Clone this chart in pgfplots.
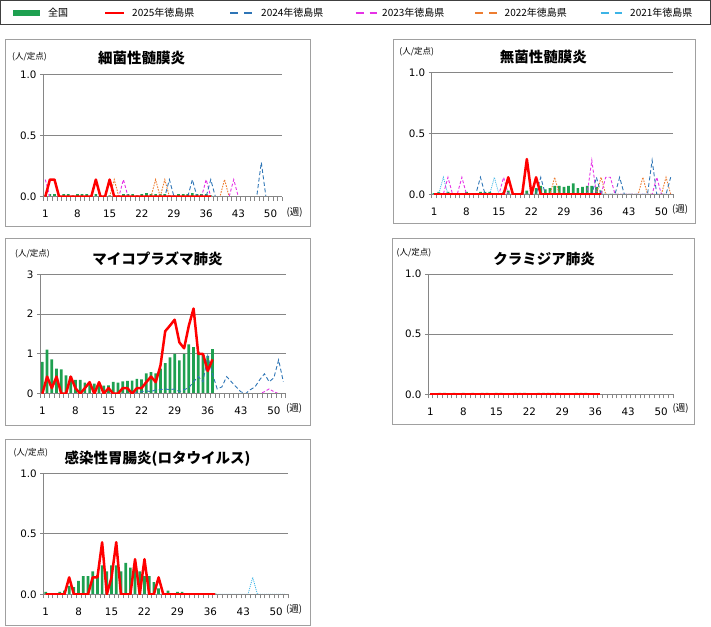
\documentclass[border=0pt]{standalone}
\usepackage{fontspec}
\setmainfont{DejaVu Sans}
\newfontfamily\jp{Noto Sans CJK JP}
\usepackage{pgfplots}
\pgfplotsset{compat=1.18}
\usepackage{pgfplotstable}

\definecolor{natgreen}{RGB}{30,160,80}
\definecolor{c2025}{RGB}{255,0,0}
\definecolor{c2024}{RGB}{46,117,182}
\definecolor{c2023}{RGB}{230,50,230}
\definecolor{c2022}{RGB}{237,125,49}
\definecolor{c2021}{RGB}{60,180,230}
\definecolor{gridgray}{RGB}{134,134,134}
\definecolor{framegray}{RGB}{160,160,160}

% 細菌性髄膜炎
\pgfplotstableread{
w nat r25 a24 a23 a22 a21
1 0.01 0 0 0.14 0 0
2 0.02 0.14 0 0 0 0
3 0.02 0.14 0 0 0 0
4 0.01 0 0 0 0 0
5 0.02 0 0 0 0 0
6 0.02 0 0 0 0 0
7 0.01 0 0 0 0 0
8 0.02 0 0 0 0 0
9 0.02 0 0 0 0 0
10 0.02 0 0 0 0 0
11 0.01 0 0 0 0 0
12 0.02 0.14 0 0 0 0
13 0.01 0 0 0 0 0
14 0.01 0 0 0 0 0
15 0.01 0.14 0 0 0 0
16 0.01 0 0 0 0.14 0
17 0.01 0 0 0 0 0
18 0.02 0 0 0.14 0 0
19 0.02 0 0 0 0 0
20 0.02 0 0 0 0 0
21 0.01 0 0 0 0 0
22 0.02 0 0 0 0 0
23 0.03 0 0 0 0 0
24 0.02 0 0 0 0 0
25 0.02 0 0 0 0.14 0
26 0.02 0 0 0 0 0
27 0.02 0 0 0 0.14 0
28 0.01 0 0.14 0 0 0
29 0.01 0 0 0 0 0
30 0.02 0 0 0 0 0
31 0.02 0 0 0 0 0
32 0.02 0 0 0 0 0
33 0.03 0 0.14 0 0 0
34 0.02 0 0 0 0 0
35 0.02 0 0 0 0 0
36 0.02 0 0 0.14 0 0
37 0.01 0 0.14 0 0 0
38 nan nan 0 0 0 0
39 nan nan 0 0 0 0
40 nan nan 0 0 0.14 0
41 nan nan 0 0 0 0
42 nan nan 0 0.14 0 0
43 nan nan 0 0 0 0
44 nan nan 0 0 0 0
45 nan nan 0 0 0 0
46 nan nan 0 0 0 0
47 nan nan 0 0 0 0
48 nan nan 0.28 0 0 0
49 nan nan 0 0 0 0
50 nan nan 0 0 0 0
51 nan nan 0 0 0 0
52 nan nan 0 0 0 0
}\tblA

% 無菌性髄膜炎
\pgfplotstableread{
w nat r25 a24 a23 a22 a21
1 0.01 0 0 0 0 0
2 0.02 0 0 0 0 0
3 0.01 0 0 0 0 0.14
4 0.02 0 0 0.14 0 0
5 0.01 0 0 0 0 0
6 0.01 0 0 0 0 0
7 0.01 0 0 0.14 0 0
8 0.02 0 0 0 0 0
9 0.01 0 0 0 0 0
10 0.01 0 0 0 0 0
11 0.02 0 0.14 0 0 0
12 0.02 0 0 0 0 0
13 0.02 0 0 0 0 0
14 0.01 0 0 0 0 0.14
15 0.01 0 0 0 0 0
16 0.02 0 0 0.14 0 0
17 0.03 0.14 0 0 0 0
18 0.01 0 0 0 0 0
19 0.01 0 0 0 0 0
20 0.02 0 0 0 0 0
21 0.03 0.29 0 0 0 0
22 0.03 0 0 0 0 0
23 0.05 0.14 0 0 0 0
24 0.07 0 0.14 0 0 0
25 0.04 0 0 0 0 0
26 0.05 0 0 0 0 0
27 0.07 0 0 0 0.14 0
28 0.07 0 0 0 0 0
29 0.06 0 0 0 0 0
30 0.07 0 0 0 0 0
31 0.09 0 0 0 0 0
32 0.05 0 0 0 0 0
33 0.06 0 0 0 0 0
34 0.07 0 0 0 0 0
35 0.07 0 0 0.28 0 0
36 0.06 0 0.14 0 0 0
37 0.03 0 0 0 0.14 0
38 nan nan 0 0.14 0 0
39 nan nan 0 0.14 0 0
40 nan nan 0 0 0 0
41 nan nan 0.14 0 0 0
42 nan nan 0 0 0 0
43 nan nan 0 0 0 0
44 nan nan 0 0 0 0
45 nan nan 0 0 0 0
46 nan nan 0 0 0.14 0
47 nan nan 0 0 0 0
48 nan nan 0.28 0 0 0
49 nan nan 0 0.14 0 0
50 nan nan 0 0 0 0
51 nan nan 0 0 0.14 0
52 nan nan 0.14 0 0 0
}\tblB

% マイコプラズマ肺炎
\pgfplotstableread{
w nat r25 a24 a23 a22 a21
1 0.80 0 0 0 0 0
2 1.11 0.43 0 0 0 0
3 0.86 0.14 0 0 0 0
4 0.63 0.43 0 0 0 0
5 0.61 0 0 0 0 0
6 0.46 0 0 0 0 0
7 0.44 0.43 0 0 0 0
8 0.35 0.14 0 0 0 0
9 0.35 0 0 0 0 0
10 0.28 0.14 0 0 0 0
11 0.26 0.29 0 0 0 0
12 0.25 0 0 0 0 0
13 0.22 0.29 0 0 0 0
14 0.20 0 0 0 0 0
15 0.21 0.14 0 0 0 0
16 0.30 0 0 0 0 0
17 0.28 0 0 0 0 0
18 0.31 0.14 0 0 0 0
19 0.32 0.14 0 0 0 0
20 0.33 0 0 0 0 0
21 0.37 0.14 0.03 0 0 0
22 0.36 0.14 0.05 0 0 0
23 0.51 0.29 0.07 0 0 0
24 0.54 0.43 0.05 0 0 0
25 0.51 0.29 0.10 0 0 0
26 0.63 0.71 0.10 0 0 0
27 0.77 1.57 0.12 0 0 0
28 0.91 1.71 0.10 0 0 0
29 1.00 1.86 0.12 0 0 0
30 0.84 1.29 0.05 0 0 0
31 1.00 1.14 0.10 0 0 0
32 1.24 1.71 0.15 0 0 0
33 1.17 2.14 0.30 0 0 0
34 1.05 1.00 0.43 0 0 0
35 0.97 1.00 0.30 0 0 0
36 0.95 0.57 0.95 0 0 0
37 1.12 0.86 0.50 0 0 0
38 nan nan 0.12 0 0 0
39 nan nan 0.17 0 0 0
40 nan nan 0.43 0 0 0
41 nan nan 0.30 0 0 0
42 nan nan 0.17 0 0 0
43 nan nan 0.05 0 0 0
44 nan nan 0 0 0 0
45 nan nan 0.10 0 0 0
46 nan nan 0.17 0 0 0
47 nan nan 0.35 0 0 0
48 nan nan 0.50 0.05 0 0
49 nan nan 0.30 0.12 0 0
50 nan nan 0.40 0.05 0 0
51 nan nan 0.85 0 0 0
52 nan nan 0.30 0 0 0
}\tblC

% クラミジア肺炎
\pgfplotstableread{
w nat r25
1 0 0
2 0 0
3 0.012 0
4 0.012 0
5 0 0
6 0.012 0
7 0 0
8 0.012 0
9 0 0
10 0.012 0
11 0 0
12 0.012 0
13 0.012 0
14 0 0
15 0.012 0
16 0.012 0
17 0 0
18 0 0
19 0.012 0
20 0.012 0
21 0.012 0
22 0 0
23 0 0
24 0.012 0
25 0.012 0
26 0.012 0
27 0.012 0
28 0.012 0
29 0 0
30 0 0
31 0 0
32 0.012 0
33 0.012 0
34 0.012 0
35 0 0
36 0 0
37 0 0
}\tblD

% 感染性胃腸炎(ロタウイルス)
\pgfplotstableread{
w nat r25 a24 a23 a22 a21
1 0.02 0 0 0 0 0
2 0.005 0 0 0 0 0
3 0.01 0 0 0 0 0
4 0.02 0 0 0 0 0
5 0.03 0 0 0 0 0
6 0.07 0.14 0 0 0 0
7 0.06 0 0 0 0 0
8 0.11 0 0 0 0 0
9 0.15 0 0 0 0 0
10 0.15 0 0 0 0 0
11 0.19 0.14 0 0 0 0
12 0.16 0.14 0 0 0 0
13 0.24 0.43 0 0 0 0
14 0.19 0 0 0 0 0
15 0.24 0.14 0 0 0 0
16 0.24 0.43 0 0 0 0
17 0.19 0 0 0 0 0
18 0.26 0 0 0 0 0
19 0.22 0 0 0 0 0
20 0.20 0.29 0 0 0 0
21 0.19 0 0 0 0 0
22 0.15 0.29 0 0 0 0
23 0.15 0 0 0 0 0
24 0.10 0 0 0 0 0
25 0.05 0.14 0 0 0 0
26 0.01 0 0 0 0 0
27 0.03 0 0 0 0 0
28 0.01 0 0 0 0 0
29 0.02 0 0 0 0 0
30 0.02 0 0 0 0 0
31 0.005 0 0 0 0 0
32 0.005 0 0 0 0 0
33 0.005 0 0 0 0 0
34 0.005 0 0 0 0 0
35 0.005 0 0 0 0 0
36 0.005 0 0 0 0 0
37 0.005 0 0 0 0 0
38 nan nan 0 0 0 0
39 nan nan 0 0 0 0
40 nan nan 0 0 0 0
41 nan nan 0 0 0 0
42 nan nan 0 0 0 0
43 nan nan 0 0 0 0
44 nan nan 0 0 0 0
45 nan nan 0 0 0 0.14
46 nan nan 0 0 0 0
47 nan nan 0 0 0 0
48 nan nan 0 0 0 0
49 nan nan 0 0 0 0
50 nan nan 0 0 0 0
51 nan nan 0 0 0 0
52 nan nan 0 0 0 0
}\tblE

\pgfplotsset{
  panel/.style={
    scale only axis, anchor=south west,
    xmin=0.5, xmax=52.5, ymin=0,
    axis lines*=left,
    axis line style={-, gridgray, line width=0.8pt},
    xtick={1,8,...,50},
    minor xtick={0.5,1.5,...,52.5},
    every major x tick/.append style={draw=none},
    every minor x tick/.append style={gridgray, line width=0.5pt},
    ytick style={gridgray, line width=0.8pt},
    tick align=outside, major tick length=3pt, minor tick length=4pt,
    ymajorgrids, grid style={gridgray, line width=0.8pt},
    tick label style={font=\fontsize{10.3}{11}\selectfont, text=black},
    xticklabel style={yshift=-7pt},
    /pgf/number format/assume math mode=true,
  },
  dec/.style={ymax=1, ytick={0,0.5,1},
    yticklabel style={/pgf/number format/.cd, fixed, fixed zerofill, precision=1}},
  nat/.style={ybar, bar shift=0pt, bar width=2.7pt, fill=natgreen, draw=none},
  r25/.style={c2025, line width=2.5pt, line join=round, mark=none},
  y24/.style={c2024, line width=0.9pt, dash pattern=on 4pt off 2.5pt, mark=none},
  y23/.style={c2023, line width=0.9pt, dash pattern=on 3pt off 2pt, mark=none},
  y22/.style={c2022, line width=0.9pt, dash pattern=on 1.6pt off 1.2pt, mark=none},
  y21/.style={c2021, line width=0.8pt, dash pattern=on 1pt off 1pt, mark=none},
}

\newcommand\base{\draw[gridgray, line width=0.8pt] (rel axis cs:0,0) -- (rel axis cs:1,0);}

\begin{document}
\begin{tikzpicture}[x=1pt, y=1pt]
\useasboundingbox (0,0) rectangle (711,626);

% legend
\draw[black!75, line width=0.8pt] (0.5,602) rectangle (710.5,625.5);
\fill[natgreen] (12.8,609.5) rectangle (40,616);
\draw[c2025, line width=2.6pt] (105,613) -- (124,613);
\draw[c2024, line width=2pt, dash pattern=on 8pt off 6pt] (230,613) -- (252,613);
\draw[c2023, line width=2pt, dash pattern=on 8pt off 6pt] (355.5,613) -- (377,613);
\draw[c2022, line width=2pt, dash pattern=on 8pt off 6pt] (475,613) -- (497,613);
\draw[c2021, line width=2pt, dash pattern=on 8pt off 6pt] (600.7,613) -- (622,613);
\begin{scope}[every node/.style={anchor=west, inner sep=0pt, font=\jp\fontsize{10}{11}\selectfont}]
\node at (48,613) {全国};
\node at (132,613) {2025年徳島県};
\node at (261,613) {2024年徳島県};
\node at (382,613) {2023年徳島県};
\node at (504.5,613) {2022年徳島県};
\node at (630,613) {2021年徳島県};
\end{scope}

% frames
\draw[framegray, line width=0.8pt] (5,399.3) rectangle (310,587);
\draw[framegray, line width=0.8pt] (393,402.7) rectangle (695,587);
\draw[framegray, line width=0.8pt] (5,201) rectangle (310,387.7);
\draw[framegray, line width=0.8pt] (392,201.7) rectangle (694.3,388);
\draw[framegray, line width=0.8pt] (5,1) rectangle (310,187);

% titles and unit labels
\begin{scope}[every node/.style={font=\jp\bfseries\fontsize{14.5}{15}\selectfont}]
\node at (141.7,567.7) {細菌性髄膜炎};
\node at (543.3,569.3) {無菌性髄膜炎};
\node at (157.5,367) {マイコプラズマ肺炎};
\node at (544,367) {クラミジア肺炎};
\node at (157.5,167.7) {感染性胃腸炎(ロタウイルス)};
\end{scope}
\begin{scope}[every node/.style={font=\jp\fontsize{8.5}{9}\selectfont}]
\node at (29.5,569.3) {(人/定点)};
\node at (416.7,574.3) {(人/定点)};
\node at (32.5,372.7) {(人/定点)};
\node at (414,373.7) {(人/定点)};
\node at (30.8,173.7) {(人/定点)};
\end{scope}
\begin{scope}[every node/.style={font=\jp\fontsize{9.5}{10}\selectfont}]
\node at (294.5,413) {(週)};
\node at (680,416) {(週)};
\node at (294,217) {(週)};
\node at (680.5,217) {(週)};
\node at (294,16) {(週)};
\end{scope}

% 細菌性髄膜炎
\begin{axis}[panel, dec, at={(43pt,429.3pt)}, width=239pt, height=122.4pt]
\addplot[nat] table[x=w, y=nat] {\tblA};
\addplot[y21] table[x=w, y=a21] {\tblA};
\addplot[y22] table[x=w, y=a22] {\tblA};
\addplot[y23] table[x=w, y=a23] {\tblA};
\addplot[y24] table[x=w, y=a24] {\tblA};
\base
\addplot[r25] table[x=w, y=r25] {\tblA};
\end{axis}

% 無菌性髄膜炎
\begin{axis}[panel, dec, at={(431.7pt,431.7pt)}, width=241.3pt, height=121.6pt]
\addplot[nat] table[x=w, y=nat] {\tblB};
\addplot[y21] table[x=w, y=a21] {\tblB};
\addplot[y22] table[x=w, y=a22] {\tblB};
\addplot[y23] table[x=w, y=a23] {\tblB};
\addplot[y24] table[x=w, y=a24] {\tblB};
\base
\addplot[r25] table[x=w, y=r25] {\tblB};
\end{axis}

% マイコプラズマ肺炎
\begin{axis}[panel, ymax=3, ytick={0,1,2,3}, at={(40pt,232.3pt)}, width=245.7pt, height=119.4pt]
\addplot[nat] table[x=w, y=nat] {\tblC};
\addplot[y21] table[x=w, y=a21] {\tblC};
\addplot[y22] table[x=w, y=a22] {\tblC};
\addplot[y23] table[x=w, y=a23] {\tblC};
\addplot[y24] table[x=w, y=a24] {\tblC};
\base
\addplot[r25] table[x=w, y=r25] {\tblC};
\end{axis}

% クラミジア肺炎
\begin{axis}[panel, dec, at={(428pt,231.7pt)}, width=245pt, height=120.3pt]
\addplot[nat] table[x=w, y=nat] {\tblD};
\base
\addplot[r25] table[x=w, y=r25] {\tblD};
\end{axis}

% 感染性胃腸炎(ロタウイルス)
\begin{axis}[panel, dec, at={(43.3pt,31.7pt)}, width=244.7pt, height=121pt]
\addplot[nat] table[x=w, y=nat] {\tblE};
\addplot[y21] table[x=w, y=a21] {\tblE};
\addplot[y22] table[x=w, y=a22] {\tblE};
\addplot[y23] table[x=w, y=a23] {\tblE};
\addplot[y24] table[x=w, y=a24] {\tblE};
\base
\addplot[r25] table[x=w, y=r25] {\tblE};
\end{axis}
\end{tikzpicture}
\end{document}
